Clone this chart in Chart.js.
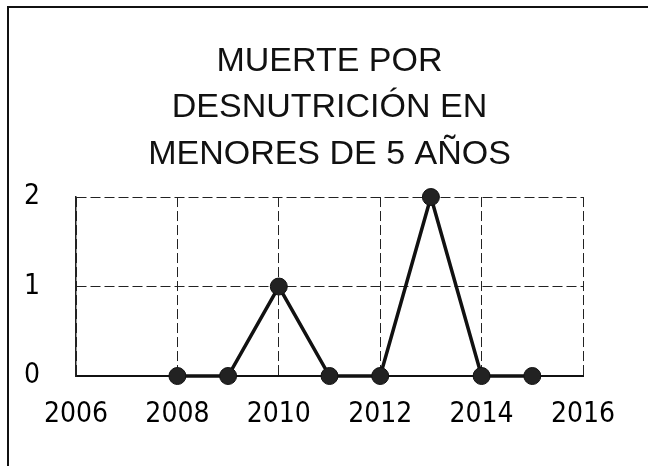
<!DOCTYPE html>
<html>
<head>
<meta charset="utf-8">
<script src="https://cdn.jsdelivr.net/npm/chart.js@4"></script>
<style>
  html, body { margin: 0; padding: 0; background: #fff; }
  #frame { position: absolute; left: 0; top: 0; width: 648px; height: 466px; }
  #frame:before {
    content: ""; position: absolute; left: 7px; top: 6px; right: 0; bottom: 0;
    border-left: 2px solid #111; border-top: 2px solid #111;
    pointer-events: none;
  }
  canvas { position: absolute; left: 0; top: 0; }
</style>
</head>
<body>
<div id="frame">
  <canvas id="chart" width="648" height="466"></canvas>
</div>
<script>
// === Data ===
const years = [2008, 2009, 2010, 2011, 2012, 2013, 2014, 2015];
const deaths = [0, 0, 1, 0, 0, 2, 0, 0];
const titleLines = ["MUERTE POR", "DESNUTRICIÓN EN", "MENORES DE 5 AÑOS"];
const xTicks = [2006, 2008, 2010, 2012, 2014, 2016];
const yTicks = [0, 1, 2];

const tickFont = { family: "'DejaVu Sans Condensed', 'Liberation Sans Narrow', sans-serif", size: 28 };
const gridDash = [10, 4];

new Chart(document.getElementById("chart"), {
    type: 'line',
    data: {
        datasets: [{
            data: years.map((y, i) => ({ x: y, y: deaths[i] })),
            borderColor: '#111',
            borderWidth: 3.5,
            backgroundColor: '#222',
            pointBackgroundColor: '#222',
            pointBorderColor: '#111',
            pointBorderWidth: 1,
            pointRadius: 8.5,
            tension: 0,
            clip: false
        }]
    },
    options: {
        responsive: false,
        animation: false,
        layout: { padding: { top: 0, right: 65, bottom: 0, left: 0 } },
        plugins: {
            legend: { display: false },
            tooltip: { enabled: false },
            title: {
                display: true,
                fullSize: false,
                text: titleLines,
                color: '#111',
                font: { family: "'Liberation Sans', Arial, sans-serif", size: 34, weight: 'normal', lineHeight: 1.368 },
                padding: { top: 38, bottom: 19.5 }
            }
        },
        scales: {
            x: {
                type: 'linear',
                min: xTicks[0],
                max: xTicks[xTicks.length - 1],
                afterBuildTicks: s => { s.ticks = xTicks.map(v => ({ value: v })); },
                afterFit: s => { s.height = 90; },
                ticks: {
                    color: '#000',
                    font: tickFont,
                    padding: 22,
                    maxRotation: 0,
                    callback: v => String(v)
                },
                grid: { color: '#222', lineWidth: 1, drawTicks: false },
                border: { display: true, color: '#111', width: 2, dash: gridDash }
            },
            y: {
                min: yTicks[0],
                max: yTicks[yTicks.length - 1],
                afterBuildTicks: s => { s.ticks = yTicks.map(v => ({ value: v })); },
                afterFit: s => { s.width = 76; },
                ticks: {
                    color: '#000',
                    font: tickFont,
                    padding: 36,
                    callback: v => String(v)
                },
                grid: { color: '#222', lineWidth: 1, drawTicks: false },
                border: { display: true, color: '#222', width: 1.5, dash: gridDash }
            }
        }
    }
});
</script>
</body>
</html>
